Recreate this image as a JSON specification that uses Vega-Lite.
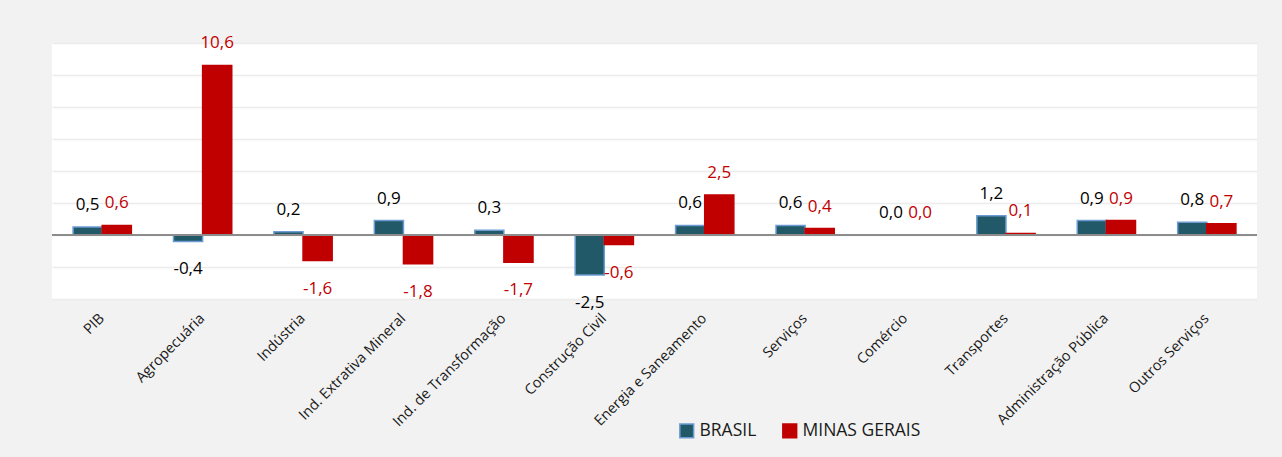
{
  "$schema": "https://vega.github.io/schema/vega-lite/v6.json",
  "width": 1205,
  "height": 256,
  "autosize": {"type": "none"},
  "padding": {"left": 52, "top": 43, "right": 25, "bottom": 158},
  "background": "#f2f2f2",
  "config": {
    "view": {"fill": "white", "stroke": null},
    "font": "Open Sans",
    "locale": {"number": {"decimal": ",", "thousands": ".", "grouping": [3], "currency": ["R$", ""], "minus": "-"}}
  },
  "data": {
    "values": [
      {"setor": "PIB", "serie": "BRASIL", "valor": 0.5},
      {"setor": "PIB", "serie": "MINAS GERAIS", "valor": 0.6},
      {"setor": "Agropecuária", "serie": "BRASIL", "valor": -0.4},
      {"setor": "Agropecuária", "serie": "MINAS GERAIS", "valor": 10.6},
      {"setor": "Indústria", "serie": "BRASIL", "valor": 0.2},
      {"setor": "Indústria", "serie": "MINAS GERAIS", "valor": -1.6},
      {"setor": "Ind. Extrativa Mineral", "serie": "BRASIL", "valor": 0.9},
      {"setor": "Ind. Extrativa Mineral", "serie": "MINAS GERAIS", "valor": -1.8},
      {"setor": "Ind. de Transformação", "serie": "BRASIL", "valor": 0.3},
      {"setor": "Ind. de Transformação", "serie": "MINAS GERAIS", "valor": -1.7},
      {"setor": "Construção Civil", "serie": "BRASIL", "valor": -2.5},
      {"setor": "Construção Civil", "serie": "MINAS GERAIS", "valor": -0.6},
      {"setor": "Energia e Saneamento", "serie": "BRASIL", "valor": 0.6},
      {"setor": "Energia e Saneamento", "serie": "MINAS GERAIS", "valor": 2.5},
      {"setor": "Serviços", "serie": "BRASIL", "valor": 0.6},
      {"setor": "Serviços", "serie": "MINAS GERAIS", "valor": 0.4},
      {"setor": "Comércio", "serie": "BRASIL", "valor": 0.0},
      {"setor": "Comércio", "serie": "MINAS GERAIS", "valor": 0.0},
      {"setor": "Transportes", "serie": "BRASIL", "valor": 1.2},
      {"setor": "Transportes", "serie": "MINAS GERAIS", "valor": 0.1},
      {"setor": "Administração Pública", "serie": "BRASIL", "valor": 0.9},
      {"setor": "Administração Pública", "serie": "MINAS GERAIS", "valor": 0.9},
      {"setor": "Outros Serviços", "serie": "BRASIL", "valor": 0.8},
      {"setor": "Outros Serviços", "serie": "MINAS GERAIS", "valor": 0.7}
    ]
  },
  "encoding": {
    "x": {
      "field": "setor", "type": "nominal", "sort": null,
      "scale": {"paddingInner": 0.42, "paddingOuter": 0.21},
      "axis": {
        "title": null, "labelAngle": -45, "labelAlign": "right", "labelBaseline": "middle",
        "labelFontSize": 14.5, "labelColor": "#1a1a1a", "labelPadding": 17,
        "ticks": false, "domain": false, "labelFont": "Open Sans", "grid": false
      }
    },
    "xOffset": {"field": "serie", "type": "nominal", "scale": {"paddingInner": 0, "paddingOuter": 0}}
  },
  "layer": [
    {
      "mark": {"type": "bar", "strokeWidth": 1.5},
      "encoding": {
        "y": {
          "field": "valor", "type": "quantitative",
          "scale": {"domain": [-4, 12], "nice": false},
          "axis": {"title": null, "labels": false, "ticks": false, "domain": false,
                   "grid": true, "gridColor": "#ececec", "gridWidth": 1.5, "gridOpacity": 1,
                   "values": [-4, -2, 0, 2, 4, 6, 8, 10, 12], "tickCount": 9}
        },
        "color": {
          "field": "serie", "type": "nominal",
          "scale": {"domain": ["BRASIL", "MINAS GERAIS"], "range": ["#215968", "#c00000"]},
          "legend": {
            "title": null, "orient": "none", "legendX": 626, "legendY": 379, "direction": "horizontal",
            "symbolType": "square", "symbolSize": 190, "symbolOpacity": 1, "symbolStrokeWidth": 1.5,
            "labelFontSize": 17.5, "labelColor": "#1a1a1a", "columnPadding": 22, "labelOffset": 4, "labelFont": "Open Sans"
          }
        },
        "stroke": {
          "field": "serie", "type": "nominal",
          "scale": {"domain": ["BRASIL", "MINAS GERAIS"], "range": ["#6b9bd2", "#c00000"]},
          "legend": null
        }
      }
    },
    {
      "mark": {"type": "rule", "color": "#8c8c8c", "strokeWidth": 1.5},
      "encoding": {"y": {"datum": 0, "type": "quantitative"}, "x": null, "xOffset": null}
    },
    {
      "transform": [{"filter": "datum.valor >= 0"}],
      "mark": {"type": "text", "dy": -22, "fontSize": 17, "baseline": "middle"},
      "encoding": {
        "y": {"field": "valor", "type": "quantitative"},
        "text": {"field": "valor", "type": "quantitative", "format": ".1f"},
        "color": {"condition": {"test": "datum.serie === 'BRASIL'", "value": "#000000"}, "value": "#c00000"}
      }
    },
    {
      "transform": [{"filter": "datum.valor < 0"}],
      "mark": {"type": "text", "dy": 28, "fontSize": 17, "baseline": "middle"},
      "encoding": {
        "y": {"field": "valor", "type": "quantitative"},
        "text": {"field": "valor", "type": "quantitative", "format": ".1f"},
        "color": {"condition": {"test": "datum.serie === 'BRASIL'", "value": "#000000"}, "value": "#c00000"}
      }
    }
  ]
}
